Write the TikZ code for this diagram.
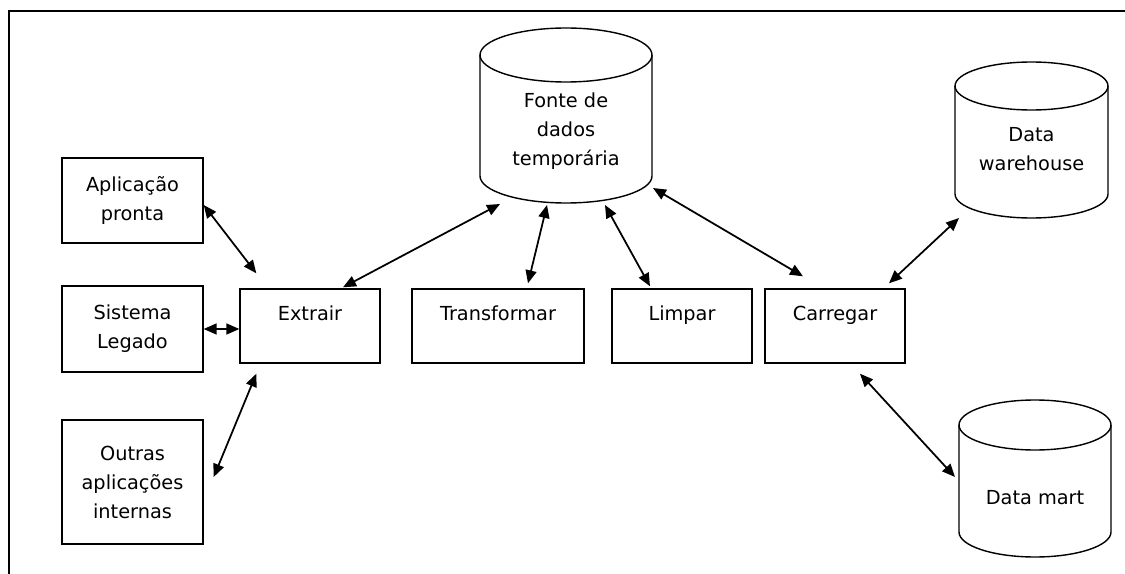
\documentclass[tikz,border=0pt]{standalone}
\usepackage{fontspec}
\setmainfont{DejaVu Sans}
\usetikzlibrary{positioning, arrows.meta}

% #1 nó, #2 raio x, #3 raio y, #4 topo, #5 base (relativos ao centro do nó)
\newcommand{\cilindro}[5]{%
  \draw[line width=0.8pt] ([shift={(-#2,#4+#3)}]#1.center) -- ([shift={(-#2,#5-#3)}]#1.center)
    arc[start angle=180, end angle=0, x radius=#2, y radius=#3]
    -- ([shift={(#2,#4+#3)}]#1.center);
  \draw[line width=0.8pt] ([shift={(0,#4+#3)}]#1.center) ellipse[x radius=#2, y radius=#3];
}

\tikzset{
  source/.style={draw, line width=0.8pt, minimum width=2.82cm, align=center},
  stage/.style={draw, line width=0.8pt, minimum width=2.8cm, minimum height=1.48cm,
                text height=0.3cm, text depth=0.54cm},
  store/.style={align=center},
  link/.style={line width=1pt, {Triangle[length=0.26cm,width=0.22cm]}-{Triangle[length=0.26cm,width=0.22cm]}}
}

\begin{document}
\begin{tikzpicture}[x=0.02cm, y=-0.02cm, font=\fontsize{11}{16.5}\selectfont]
                \useasboundingbox (0,0) rectangle (1125,574);
                \draw[line width=0.7pt] (9,574) -- (9,11) -- (1125,11);
                % origens
                \node[source, minimum height=1.7cm] (apl) at (132.5,200.5) {Aplicação\\pronta};
                \node[source, minimum height=1.72cm] (leg) at (132.5,329) {Sistema\\Legado};
                \node[source, minimum height=2.48cm] (out) at (132.5,482) {Outras\\aplicações\\internas};
                % etapas
                \node[stage] (ext) at (310,326) {Extrair};
                \node[stage, minimum width=3.44cm] (trf) at (498,326) {Transformar};
                \node[stage] (lmp) at (682,326) {Limpar};
                \node[stage] (car) at (835,326) {Carregar};
                % bancos
                \node[store] (fnt) at (566,131) {Fonte de\\dados\\temporária};
                \node[store] (dw) at (1031.5,149.5) {Data\\warehouse};
                \node[store] (dm) at (1035,498) {Data mart};
                \cilindro{fnt}{86}{27}{-103}{72}
                \cilindro{dw}{76.5}{24}{-87.5}{68.5}
                \cilindro{dm}{76}{25}{-98}{59}
                \draw [link] ([shift={(0,4.5)}]apl.east) -- ([shift={(17,-15)}]ext.north west);
                \draw [link] (leg.east) -- (leg.east -| ext.west);
                \draw [link] ([shift={(10,-5)}]out.east) -- ([shift={(17,10)}]ext.south west);
                \draw [link] ([shift={(33,-1)}]ext.north) -- ([shift={(-66,73)}]fnt.center);
                \draw [link] ([shift={(30,-5)}]trf.north) -- ([shift={(-19,74)}]fnt.center);
                \draw [link] ([shift={(-32,-2)}]lmp.north) -- ([shift={(39,74)}]fnt.center);
                \draw [link] ([shift={(-32,-12)}]car.north) -- ([shift={(87,57)}]fnt.center);
                \draw [link] ([shift={(54,-5)}]car.north) -- ([shift={(-72.5,68.5)}]dw.center);
                \draw [link] ([shift={(25,10)}]car.south) -- ([shift={(-80,-21)}]dm.center);
            \end{tikzpicture}
\end{document}
